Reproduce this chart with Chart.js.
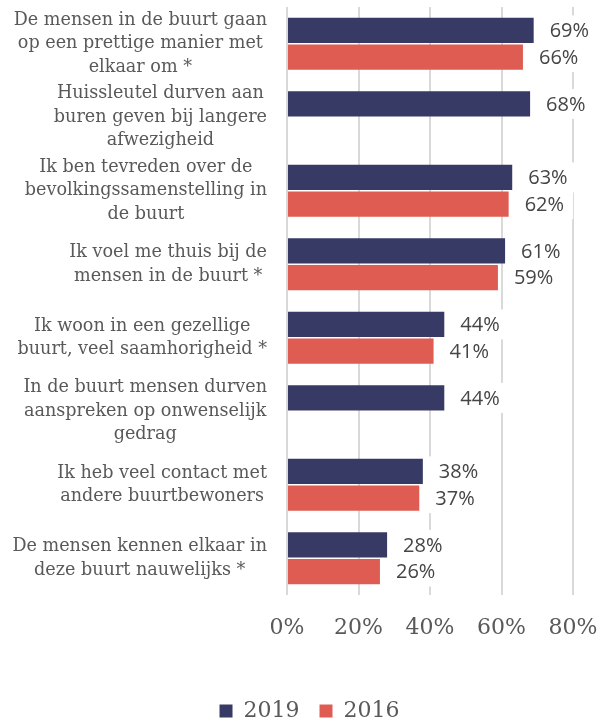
<!DOCTYPE html>
<html>
<head>
<meta charset="utf-8">
<script src="https://cdn.jsdelivr.net/npm/chart.js@4"></script>
<style>
  html, body { margin: 0; background: #fff; }
  #wrap { width: 601px; height: 722px; position: relative; }
</style>
</head>
<body>
<div id="wrap"><canvas id="buurt"></canvas></div>
<script>
// ---------- Data ----------
const categories = [
  ["De mensen in de buurt gaan", "op een prettige manier met", "elkaar om *"],
  ["Huissleutel durven aan", "buren geven bij langere", "afwezigheid"],
  ["Ik ben tevreden over de", "bevolkingssamenstelling in", "de buurt"],
  ["Ik voel me thuis bij de", "mensen in de buurt *"],
  ["Ik woon in een gezellige", "buurt, veel saamhorigheid *"],
  ["In de buurt mensen durven", "aanspreken op onwenselijk", "gedrag"],
  ["Ik heb veel contact met", "andere buurtbewoners"],
  ["De mensen kennen elkaar in", "deze buurt nauwelijks *"],
];
const seriesNames = ["2019", "2016"];
const values2019 = [69, 68, 63, 61, 44, 44, 38, 28];
const values2016 = [66, null, 62, 59, 41, null, 37, 26];
const xMax = 80;
const xStep = 20;

const SERIF = "'DejaVu Serif', serif";
const VALUE_FONT = "20px 'Open Sans', sans-serif";
const INK = "#595959";

// ---------- Value labels: white box behind (hides gridlines), text after bars ----------
const valueLabels = {
  id: "valueLabels",
  beforeDatasetsDraw(chart) {
    const ctx = chart.ctx;
    ctx.save();
    ctx.font = VALUE_FONT;
    ctx.fillStyle = "#fff";
    chart.data.datasets.forEach((ds, di) => {
      chart.getDatasetMeta(di).data.forEach((bar, i) => {
        const v = ds.data[i];
        if (v == null) return;
        const w = ctx.measureText(v + "%").width;
        ctx.fillRect(bar.x + 5, bar.y - 15, w + 20, 30);
      });
    });
    ctx.restore();
  },
  afterDatasetsDraw(chart) {
    const ctx = chart.ctx;
    ctx.save();
    ctx.font = VALUE_FONT;
    ctx.fillStyle = "#454545";
    ctx.textAlign = "left";
    ctx.textBaseline = "middle";
    chart.data.datasets.forEach((ds, di) => {
      chart.getDatasetMeta(di).data.forEach((bar, i) => {
        const v = ds.data[i];
        if (v == null) return;
        ctx.fillText(v + "%", bar.x + 16, bar.y + 1);
      });
    });
    ctx.restore();
  }
};

// ---------- Category labels: block right-aligned, lines centred (Excel style) ----------
const categoryLabels = {
  id: "categoryLabels",
  afterDraw(chart) {
    const ctx = chart.ctx;
    const y = chart.scales.y;
    const right = y.right - 20;
    const lineH = 23.5;
    ctx.save();
    ctx.font = "17.6px " + SERIF;
    ctx.fillStyle = INK;
    ctx.textAlign = "center";
    ctx.textBaseline = "middle";
    chart.data.labels.forEach((lines, i) => {
      const widest = Math.max(...lines.map(l => ctx.measureText(l).width));
      const cx = right - widest / 2;
      const cy = y.getPixelForTick(i);
      lines.forEach((l, j) => {
        ctx.fillText(l, cx, cy + (j - (lines.length - 1) / 2) * lineH);
      });
    });
    ctx.restore();
  }
};

// Nudge the legend down and to the right, where the reference has it.
const legendNudge = {
  id: "legendNudge",
  afterLayout(chart) {
    const l = chart.legend;
    l.top += 10; l.bottom += 10;
    l.left += 23; l.right += 23;
  }
};

new Chart(document.getElementById("buurt"), {
  type: "bar",
  data: {
    labels: categories,
    datasets: [
      { label: seriesNames[0], data: values2019, backgroundColor: "#383a66" },
      { label: seriesNames[1], data: values2016, backgroundColor: "#de5c52" },
    ]
  },
  options: {
    indexAxis: "y",
    responsive: true,
    maintainAspectRatio: false,
    animation: false,
    events: [],
    categoryPercentage: 0.727,
    barPercentage: 0.94,
    layout: { padding: { top: 7, right: 28, left: 0, bottom: 0 } },
    plugins: {
      tooltip: { enabled: false },
      legend: {
        position: "bottom",
        labels: {
          boxWidth: 13, boxHeight: 13, padding: 20,
          color: INK, font: { family: SERIF, size: 22 }
        }
      }
    },
    scales: {
      x: {
        min: 0, max: xMax,
        grid: { color: "#d9d9d9", lineWidth: 2, drawTicks: false },
        border: { display: false },
        ticks: {
          stepSize: xStep, padding: 20, color: INK,
          font: { family: SERIF, size: 22 },
          callback: v => v + "%"
        },
        afterFit: s => { s.height = 75; s.paddingLeft = 0; s.paddingRight = 0; }
      },
      y: {
        grid: { display: false },
        border: { display: false },
        ticks: { display: false },
        afterFit: s => { s.width = 287; }
      }
    }
  },
  plugins: [valueLabels, categoryLabels, legendNudge]
});
</script>
</body>
</html>
